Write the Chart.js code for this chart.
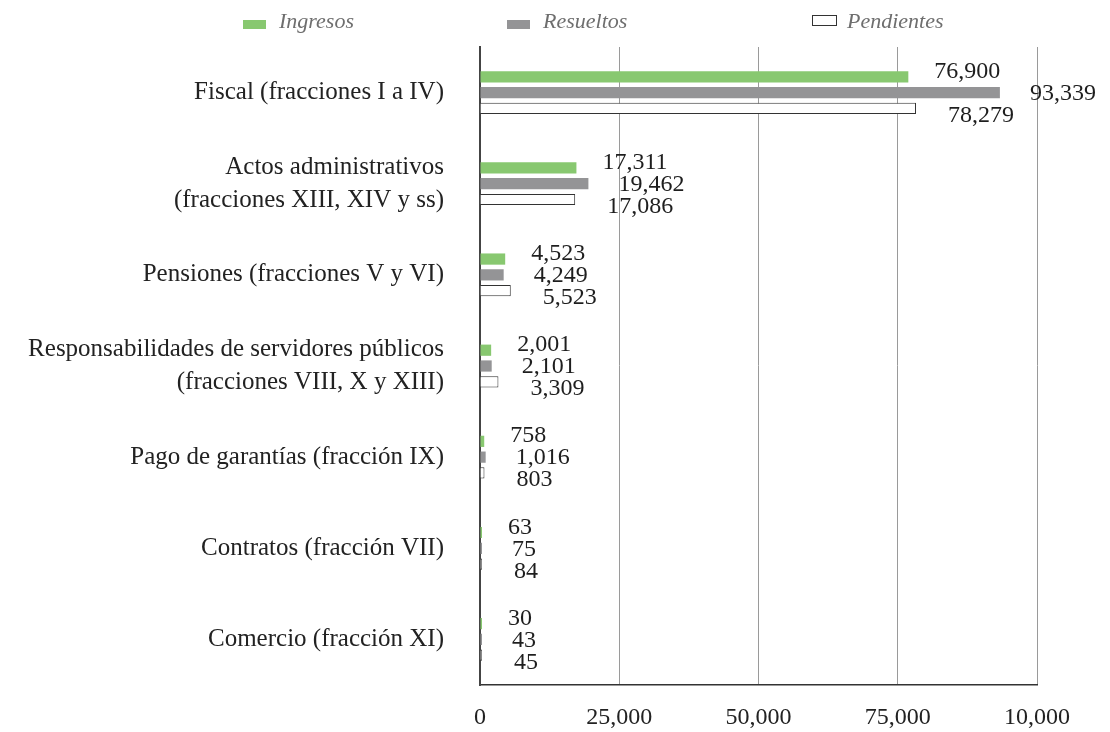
<!DOCTYPE html>
<html lang="es">
<head>
<meta charset="utf-8">
<title>Asuntos por materia</title>
<script src="https://cdn.jsdelivr.net/npm/chart.js@4.4.1/dist/chart.umd.min.js"></script>
<style>
  html, body { margin: 0; padding: 0; background: #fff; }
  canvas { display: block; }
</style>
</head>
<body>
<canvas id="myChart" width="1110" height="732"></canvas>
<script>
const categorias = [
    'Fiscal (fracciones I a IV)',
    ['Actos administrativos', '(fracciones XIII, XIV y ss)'],
    'Pensiones (fracciones V y VI)',
    ['Responsabilidades de servidores públicos', '(fracciones VIII, X y XIII)'],
    'Pago de garantías (fracción IX)',
    'Contratos (fracción VII)',
    'Comercio (fracción XI)'
];
const ingresos = [76900, 17311, 4523, 2001, 758, 63, 30];
const resueltos = [93339, 19462, 4249, 2101, 1016, 75, 43];
const pendientes = [78279, 17086, 5523, 3309, 803, 84, 45];
const ticksX = ['0', '25,000', '50,000', '75,000', '10,000'];

const fuente = '"Liberation Serif", "Times New Roman", serif';

// leyenda dibujada a mano para ubicar cada elemento como en el original
const leyenda = {
    id: 'leyenda',
    afterDraw(chart) {
        const ctx = chart.ctx;
        const posX = [243, 507, 812];
        ctx.save();
        ctx.font = 'italic 22px ' + fuente;
        ctx.textBaseline = 'alphabetic';
        chart.data.datasets.forEach((ds, i) => {
            const x = posX[i];
            if (ds.borderWidth) {
                ctx.fillStyle = ds.backgroundColor;
                ctx.fillRect(x, 15, 25, 11);
                ctx.strokeStyle = ds.borderColor;
                ctx.lineWidth = 1;
                ctx.strokeRect(x + 0.5, 15.5, 24, 10);
                ctx.fillStyle = '#6e6e6e';
                ctx.fillText(ds.label, x + 35, 28);
            } else {
                ctx.fillStyle = ds.backgroundColor;
                ctx.fillRect(x, 20, 23, 9);
                ctx.fillStyle = '#6e6e6e';
                ctx.fillText(ds.label, x + 36, 28);
            }
        });
        ctx.restore();
    }
};

const etiquetasValores = {
    id: 'etiquetasValores',
    afterDatasetsDraw(chart) {
        const ctx = chart.ctx;
        const desplazaX = [26, 30, 32];
        const centro = chart.getDatasetMeta(1).data;
        ctx.save();
        ctx.font = '24px ' + fuente;
        ctx.fillStyle = '#1e1e1e';
        ctx.textBaseline = 'middle';
        chart.data.datasets.forEach((ds, i) => {
            chart.getDatasetMeta(i).data.forEach((barra, j) => {
                const y = centro[j].y + 1 + (i - 1) * 22;
                ctx.fillText(ds.data[j].toLocaleString('en-US'), barra.x + desplazaX[i], y);
            });
        });
        ctx.restore();
    }
};

const config = {
    type: 'bar',
    data: {
        labels: categorias,
        datasets: [
            { label: 'Ingresos', data: ingresos, backgroundColor: '#88c870', borderWidth: 0 },
            { label: 'Resueltos', data: resueltos, backgroundColor: '#949496', borderWidth: 0 },
            { label: 'Pendientes', data: pendientes, backgroundColor: '#ffffff', borderColor: '#333333', borderWidth: 1 }
        ]
    },
    options: {
        indexAxis: 'y',
        responsive: false,
        animation: false,
        layout: { padding: { top: 47, right: 73, left: 0, bottom: 0 } },
        datasets: {
            bar: { categoryPercentage: 0.52, barPercentage: 0.71, minBarLength: 2 }
        },
        plugins: {
            legend: { display: false },
            tooltip: { enabled: false }
        },
        scales: {
            x: {
                min: 0,
                max: 100000,
                ticks: {
                    stepSize: 25000,
                    padding: 18,
                    color: '#222',
                    font: { family: fuente, size: 24 },
                    maxRotation: 0,
                    callback: (valor, i) => ticksX[i]
                },
                grid: { color: '#9a9a9a', lineWidth: 1, drawTicks: false },
                border: { display: true, color: '#333', width: 1.5 },
                afterFit(scale) { scale.height = 47; }
            },
            y: {
                ticks: {
                    padding: 36,
                    color: '#222',
                    font: { family: fuente, size: 25, lineHeight: 1.3 }
                },
                grid: { display: false, drawTicks: false },
                border: { display: true, color: '#444', width: 2 },
                afterFit(scale) {
                    scale.width = 480;
                    scale.paddingTop = 0;
                    scale.paddingBottom = 0;
                }
            }
        }
    },
    plugins: [leyenda, etiquetasValores]
};

const chart = new Chart(document.getElementById('myChart'), config);
</script>
</body>
</html>
